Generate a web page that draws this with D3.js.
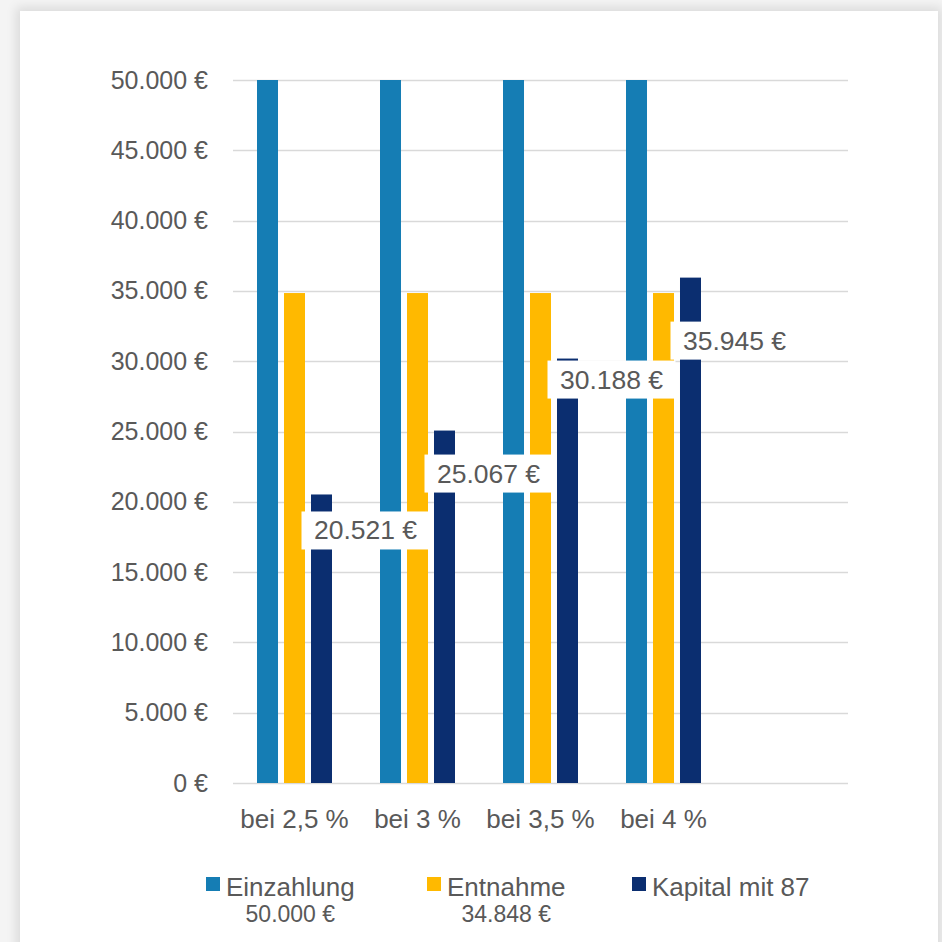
<!DOCTYPE html>
<html>
<head>
<meta charset="utf-8">
<script src="https://cdn.jsdelivr.net/npm/d3@7"></script>
<style>
  body { margin: 0; background: #f4f4f4; overflow: hidden; }
  #card { position: absolute; left: 20px; top: 11px; width: 918px; height: 960px; background: #fff;
          box-shadow: 0 0 10px 4px rgba(0,0,0,0.10); }
  svg { position: absolute; left: 0; top: 0; }
  text { font-family: "Liberation Sans", Arial, sans-serif; fill: #595959; }
</style>
</head>
<body>
<div id="card"></div>
<svg id="chart" width="942" height="942"></svg>
<script>
var categories = ["bei 2,5 %", "bei 3 %", "bei 3,5 %", "bei 4 %"];
var series = ["Einzahlung", "Entnahme", "Kapital mit 87"];
var einzahlung = [50000, 50000, 50000, 50000];
var entnahme = [34848, 34848, 34848, 34848];
var kapital = [20521, 25067, 30188, 35945];
var legendSub = ["50.000 €", "34.848 €", ""];
var yTicks = [0, 5000, 10000, 15000, 20000, 25000, 30000, 35000, 40000, 45000, 50000];

var colours = ["#157db4", "#ffb900", "#0b2e70"];
// labels were placed by hand below the bar tops
var labelDrop = [36, 43, 21, 63];

var svg = d3.select("#chart");
var plotLeft = 233, plotRight = 848, plotTop = 80, plotBottom = 783;
var slots = 5;
var step = (plotRight - plotLeft) / slots;

var de = d3.formatLocale({decimal: ",", thousands: ".", grouping: [3], currency: ["", " €"]});
var euro = de.format("$,.0f");

var x0 = d3.scaleBand()
    .domain(categories)
    .range([plotLeft, plotLeft + step * categories.length])
    .padding(0);

var x1 = d3.scaleBand()
    .domain(series)
    .range([0, x0.bandwidth()])
    .paddingInner(0.222)
    .paddingOuter(0.889);

var y = d3.scaleLinear()
    .domain([0, 50000])
    .range([plotBottom, plotTop]);

var rows = categories.map(function(c, i) {
    return {cat: c, values: [einzahlung[i], entnahme[i], kapital[i]]};
});

// gridlines
svg.append("g")
    .selectAll("line")
    .data(yTicks)
    .enter().append("line")
    .attr("x1", plotLeft)
    .attr("x2", plotRight)
    .attr("y1", function(d) { return Math.round(y(d)) + 0.5; })
    .attr("y2", function(d) { return Math.round(y(d)) + 0.5; })
    .attr("stroke", "#d9d9d9")
    .attr("stroke-width", 1.5);

// y axis labels
var yAxis = svg.append("g")
    .attr("transform", "translate(" + (plotLeft - 25) + ",0)")
    .call(d3.axisLeft(y).tickValues(yTicks).tickFormat(euro).tickSize(0).tickPadding(0));
yAxis.select(".domain").remove();
yAxis.selectAll("text")
    .attr("font-size", 25)
    .attr("font-family", "Liberation Sans, Arial, sans-serif")
    .attr("fill", "#595959");

// x axis labels
var xAxis = svg.append("g")
    .attr("transform", "translate(0," + plotBottom + ")")
    .call(d3.axisBottom(x0).tickSize(0).tickPadding(0));
xAxis.select(".domain").remove();
xAxis.selectAll("text")
    .attr("dy", null)
    .attr("y", 45)
    .attr("font-size", 26)
    .attr("font-family", "Liberation Sans, Arial, sans-serif")
    .attr("fill", "#595959");

// bars
svg.append("g")
    .selectAll("g")
    .data(rows)
    .enter().append("g")
    .attr("transform", function(d) { return "translate(" + x0(d.cat) + ",0)"; })
    .selectAll("rect")
    .data(function(d) { return d.values.map(function(v, k) { return {key: series[k], value: v, k: k}; }); })
    .enter().append("rect")
    .attr("x", function(d) { return x1(d.key); })
    .attr("y", function(d) { return y(d.value); })
    .attr("width", x1.bandwidth())
    .attr("height", function(d) { return plotBottom - y(d.value); })
    .attr("fill", function(d) { return colours[d.k]; });

// data labels for Kapital
var labels = svg.append("g")
    .selectAll("g")
    .data(rows)
    .enter().append("g")
    .attr("transform", function(d, i) {
        var cx = x0(d.cat) + x1(series[2]) + x1.bandwidth() / 2 + 44;
        var cy = y(d.values[2]) + labelDrop[i];
        return "translate(" + cx + "," + cy + ")";
    });

labels.append("rect")
    .attr("x", -64)
    .attr("y", -19)
    .attr("width", 128)
    .attr("height", 38)
    .attr("fill", "#fff");

labels.append("text")
    .attr("text-anchor", "middle")
    .attr("y", 9)
    .attr("font-size", 26.5)
    .text(function(d) { return euro(d.values[2]); });

// legend
var legendX = [206, 427, 632];
var legend = svg.append("g")
    .selectAll("g")
    .data(series)
    .enter().append("g")
    .attr("transform", function(d, i) { return "translate(" + legendX[i] + ",877)"; });

legend.append("rect")
    .attr("width", 14)
    .attr("height", 14)
    .attr("fill", function(d, i) { return colours[i]; });

var names = legend.append("text")
    .attr("x", 20)
    .attr("y", 19)
    .attr("font-size", 26)
    .text(function(d) { return d; });

legend.append("text")
    .attr("x", function(d, i) { return 20 + names.nodes()[i].getComputedTextLength() / 2; })
    .attr("y", 45)
    .attr("text-anchor", "middle")
    .attr("font-size", 23)
    .text(function(d, i) { return legendSub[i]; });
</script>
</body>
</html>
